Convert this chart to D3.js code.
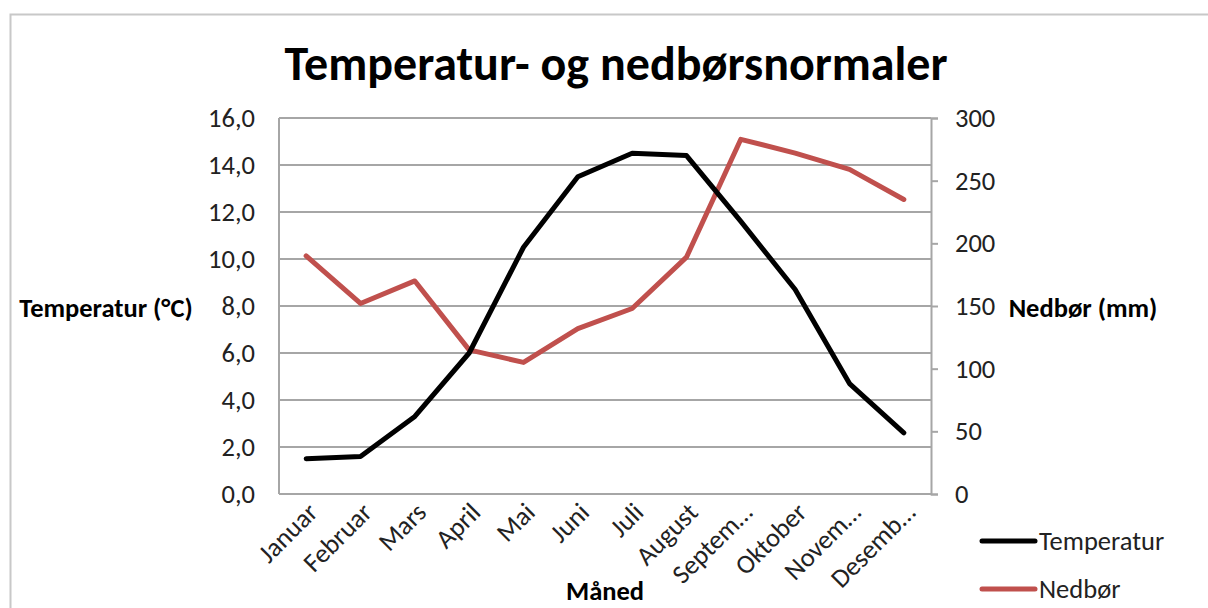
<!DOCTYPE html>
<html><head><meta charset="utf-8">
<script src="https://cdn.jsdelivr.net/npm/d3@7"></script>
<style>body{margin:0;background:#fff;} svg{display:block;} svg text{font-family:Carlito,"Open Sans","Liberation Sans",sans-serif;}</style>
</head><body>
<script>
const months = ["Januar","Februar","Mars","April","Mai","Juni","Juli","August","Septem…","Oktober","Novem…","Desemb…"];
const temperatur = [1.5,1.6,3.3,6.0,10.5,13.5,14.5,14.4,11.6,8.7,4.7,2.6];
const nedbor = [190,152,170,115,105,132,148,189,283,272,259,235];
const leftTicks = [0,2,4,6,8,10,12,14,16];
const rightTicks = [0,50,100,150,200,250,300];
const seriesNames = ["Temperatur","Nedbør"];
const colors = ["#000000","#c0504d"];

const W=1208,H=608, FS=26.5;
const FF='Carlito,"Open Sans","Liberation Sans",sans-serif';
const svg=d3.select("body").append("svg").attr("width",W).attr("height",H);
const m={l:279,r:931,t:118,b:494};
svg.append("rect").attr("x",10.5).attr("y",14.5).attr("width",1220).attr("height",620)
  .attr("fill","none").attr("stroke","#c8c8c8").attr("stroke-width",2);

const x=d3.scaleBand().domain(months).range([m.l,m.r]);
const yL=d3.scaleLinear().domain([0,16]).range([m.b,m.t]);
const yR=d3.scaleLinear().domain([0,300]).range([m.b,m.t]);
const grid="#a6a6a6";

// gridlines
svg.append("g").selectAll("line").data(leftTicks).join("line")
  .attr("x1",m.l).attr("x2",m.r).attr("y1",d=>yL(d)).attr("y2",d=>yL(d))
  .attr("stroke",grid).attr("stroke-width",2);
// left axis line
svg.append("line").attr("x1",m.l).attr("x2",m.l).attr("y1",m.t).attr("y2",m.b).attr("stroke",grid).attr("stroke-width",2);
// right axis
const ra=svg.append("g").attr("transform",`translate(${m.r},0)`)
  .call(d3.axisRight(yR).tickValues(rightTicks).tickSize(7).tickPadding(17).tickFormat(d3.format("d")));
ra.attr("font-family",FF).attr("font-size",FS);
ra.select(".domain").attr("stroke",grid).attr("stroke-width",2);
ra.selectAll(".tick line").attr("stroke",grid).attr("stroke-width",2);
ra.selectAll("text").attr("fill","#222");
// left axis labels
const la=svg.append("g").attr("transform",`translate(${m.l},0)`)
  .call(d3.axisLeft(yL).tickValues(leftTicks).tickSize(0).tickPadding(24).tickFormat(d=>d.toFixed(1).replace(".",",")));
la.attr("font-family",FF).attr("font-size",FS);
la.select(".domain").remove();
la.selectAll("text").attr("fill","#222");
// x axis labels
const xa=svg.append("g").attr("transform",`translate(0,${m.b})`)
  .call(d3.axisBottom(x).tickSize(0).tickPadding(0));
xa.attr("font-family",FF).attr("font-size",FS);
xa.select(".domain").remove();
xa.selectAll("text").attr("fill","#222")
  .attr("text-anchor","end").attr("dy",0).attr("transform","translate(13,20) rotate(-45)");

// lines
const cx=d=>x(d)+x.bandwidth()/2;
const lineT=d3.line().x((d,i)=>cx(months[i])).y(d=>yL(d));
const lineN=d3.line().x((d,i)=>cx(months[i])).y(d=>yR(d));
svg.append("path").datum(nedbor).attr("d",lineN).attr("fill","none").attr("stroke",colors[1]).attr("stroke-width",5).attr("stroke-linejoin","round").attr("stroke-linecap","round");
svg.append("path").datum(temperatur).attr("d",lineT).attr("fill","none").attr("stroke",colors[0]).attr("stroke-width",5).attr("stroke-linejoin","round").attr("stroke-linecap","round");

// titles
svg.append("text").attr("x",616).attr("y",80).attr("text-anchor","middle").attr("font-size",48).attr("font-weight","bold").text("Temperatur- og nedbørsnormaler");
svg.append("text").attr("x",106).attr("y",317).attr("text-anchor","middle").attr("font-size",FS).attr("font-weight","bold").text("Temperatur (°C)");
svg.append("text").attr("x",1083).attr("y",317).attr("text-anchor","middle").attr("font-size",FS).attr("font-weight","bold").text("Nedbør (mm)");
svg.append("text").attr("x",605).attr("y",600).attr("text-anchor","middle").attr("font-size",FS).attr("font-weight","bold").text("Måned");

// legend
const lg=svg.append("g").selectAll("g").data(seriesNames).join("g").attr("transform",(d,i)=>`translate(982,${541+i*48})`);
lg.append("line").attr("x1",0).attr("x2",53).attr("stroke",(d,i)=>colors[i]).attr("stroke-width",5).attr("stroke-linecap","round");
lg.append("text").attr("x",57).attr("y",9).attr("font-size",FS).attr("fill","#222").text(d=>d);
</script>
</body></html>
